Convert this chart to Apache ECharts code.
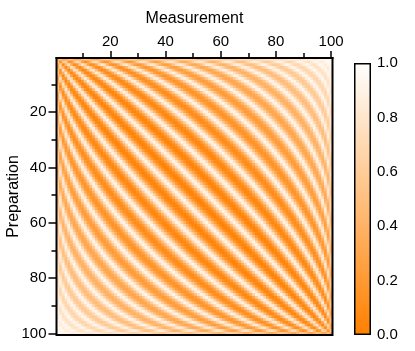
<!DOCTYPE html>
<html>
<head>
<meta charset="utf-8">
<script src="https://cdn.jsdelivr.net/npm/echarts@6/dist/echarts.min.js"></script>
<style>
  html, body { margin: 0; padding: 0; background: #fff; }
  #chart { width: 415px; height: 351px; }
</style>
</head>
<body>
<div id="chart"></div>
<script>
const FONT = "Liberation Sans, Arial, sans-serif";

// categories 1..100 on both axes
const measurement = [];
const preparation = [];
for (let k = 1; k <= 100; k++) {
  measurement.push(String(k));
  preparation.push(String(k));
}
const majorTicks = [20, 40, 60, 80, 100];
const minorTicks = [10, 30, 50, 70, 90];
const colorbarTicks = [0.0, 0.2, 0.4, 0.6, 0.8, 1.0];
const colorStops = ["#ff8000", "#ffffff"]; // 0.0 -> 1.0

// stripe pattern: bands run along the diagonal,
// squeeze into the 1,1 / 100,100 corners and fade out toward the other two
const stripeFreq = [30];
const fadeToCorner = [1.5];
const bandSharpness = [0.6];
const subSamples = [5];

const cells = [];
(function buildCells() {
  const n = preparation.length;
  const s = subSamples[0];
  for (let i = 0; i < n; i++) {
    for (let j = 0; j < n; j++) {
      let acc = 0;
      for (let a = 0; a < s; a++) {
        const ui = Math.acos(1 - (2 * (i + (a + 0.5) / s)) / n);
        for (let b = 0; b < s; b++) {
          const uj = Math.acos(1 - (2 * (j + (b + 0.5) / s)) / n);
          const d = ui - uj;
          const env = Math.pow(Math.cos(d / 2), fadeToCorner[0]);
          const band = Math.pow((1 + Math.cos(stripeFreq[0] * d)) / 2, bandSharpness[0]);
          acc += 1 - env * band;
        }
      }
      cells.push([j, i, +(acc / (s * s)).toFixed(3)]);
    }
  }
})();

const chart = echarts.init(document.getElementById("chart"));

const tickStyle = { color: "#000", width: 1.5 };
const lineStyle = { color: "#000", width: 2 };
const isMajor = (idx, val) => majorTicks.includes(+val);
const isTen = (idx, val) => majorTicks.includes(+val) || minorTicks.includes(+val);

chart.setOption({
  animation: false,
  textStyle: { fontFamily: FONT, color: "#000" },
  grid: [
    {
      left: 56.5, top: 58, width: 276, height: 277,
      outerBoundsMode: "none", containLabel: false,
      show: true, borderColor: "#000", borderWidth: 2,
      backgroundColor: "transparent", z: 5,
    },
    { left: 354, top: 63, width: 17, height: 272, outerBoundsMode: "none", containLabel: false },
  ],
  xAxis: [
    {
      type: "category", data: measurement, gridIndex: 0, position: "top",
      name: "Measurement", nameLocation: "middle", nameGap: 31, nameMoveOverlap: false,
      nameTextStyle: { fontSize: 16, color: "#000", fontFamily: FONT },
      axisLine: { show: true, lineStyle: lineStyle },
      axisTick: { show: true, alignWithLabel: true, length: 5, interval: isTen, lineStyle: tickStyle },
      axisLabel: { interval: isMajor, fontSize: 15, color: "#000", margin: 9, fontFamily: FONT },
      splitLine: { show: false },
    },
    {
      type: "category", data: measurement, gridIndex: 0, position: "top",
      axisLine: { show: true, lineStyle: lineStyle },
      axisTick: { show: true, alignWithLabel: true, length: 7, interval: isMajor, lineStyle: tickStyle },
      axisLabel: { show: false },
      splitLine: { show: false },
    },
    { type: "category", data: ["bar"], gridIndex: 1, show: false },
  ],
  yAxis: [
    {
      type: "category", data: preparation, gridIndex: 0, position: "left", inverse: true,
      name: "Preparation", nameLocation: "middle", nameGap: 35, nameRotate: 90,
      nameMoveOverlap: false,
      nameTextStyle: { fontSize: 16, color: "#000", fontFamily: FONT },
      axisLine: { show: true, lineStyle: lineStyle },
      axisTick: { show: true, alignWithLabel: true, length: 5, interval: isTen, lineStyle: tickStyle },
      axisLabel: { interval: isMajor, fontSize: 15, color: "#000", margin: 10, fontFamily: FONT },
      splitLine: { show: false },
    },
    {
      type: "category", data: preparation, gridIndex: 0, position: "left", inverse: true,
      axisLine: { show: true, lineStyle: lineStyle },
      axisTick: { show: true, alignWithLabel: true, length: 8, interval: isMajor, lineStyle: tickStyle },
      axisLabel: { show: false },
      splitLine: { show: false },
    },
    {
      type: "value", gridIndex: 1, position: "right",
      min: colorbarTicks[0], max: colorbarTicks[colorbarTicks.length - 1], interval: 0.2,
      axisLine: { show: false }, axisTick: { show: false }, splitLine: { show: false },
      axisLabel: {
        fontSize: 15, color: "#000", margin: 6, fontFamily: FONT,
        formatter: (v) => v.toFixed(1),
      },
    },
  ],
  visualMap: {
    type: "continuous", show: false, min: 0, max: 1, seriesIndex: 0,
    inRange: { color: colorStops },
  },
  series: [
    {
      type: "heatmap", xAxisIndex: 0, yAxisIndex: 0,
      data: cells, progressive: 0,
      itemStyle: { borderWidth: 0 },
    },
    {
      type: "bar", xAxisIndex: 2, yAxisIndex: 2,
      data: [colorbarTicks[colorbarTicks.length - 1]], barWidth: "100%",
      itemStyle: {
        color: new echarts.graphic.LinearGradient(0, 0, 0, 1, [
          { offset: 0, color: colorStops[1] },
          { offset: 1, color: colorStops[0] },
        ]),
        borderColor: "#000", borderWidth: 1.5,
      },
      silent: true,
    },
  ],
});
</script>
</body>
</html>
